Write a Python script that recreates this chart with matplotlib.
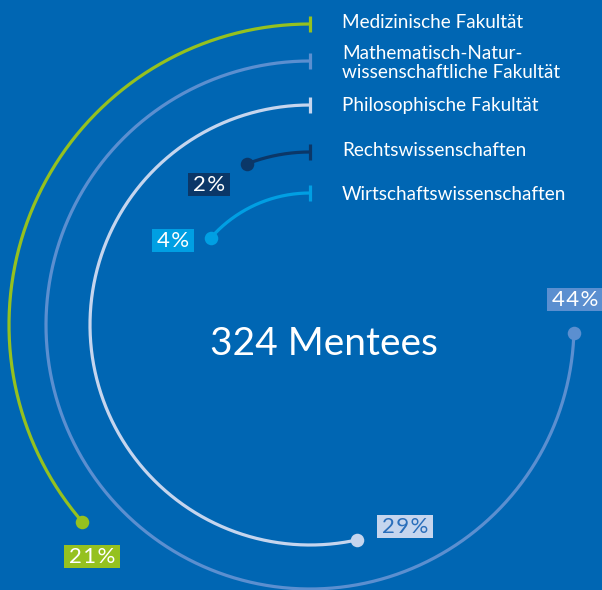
import numpy as np
import matplotlib.pyplot as plt
from matplotlib.patches import Rectangle

# Daten
fakultaeten = ["Medizinische Fakultät", "Mathematisch-Natur-\nwissenschaftliche Fakultät",
               "Philosophische Fakultät", "Rechtswissenschaften", "Wirtschaftswissenschaften"]
anteile = [21, 44, 29, 2, 4]
# Bogenlänge in Grad (aus der Vorlage abgelesen, nicht proportional)
bogen_grad = [130.8, 268.3, 192.3, 21.4, 48.5]
radien = [301, 264, 220, 173, 132]
farben = ["#95c11f", "#5b8fd0", "#c5d5ee", "#0b3768", "#009fe3"]
text_farben = ["white", "white", "#2a6ebb", "white", "white"]
gesamt = 324

# Positionen der Prozent-Labels (Pixel)
label_pos = [(92, 556), (575, 299), (405, 526), (209, 184), (173, 240)]
legende_y = [22, 63, 105, 151, 194]

bg = "#0066b3"
cx, cy = 310, 325

fig = plt.figure(figsize=(6.02, 5.90), dpi=100, facecolor=bg)
ax = fig.add_axes([0, 0, 1, 1])
ax.set_xlim(0, 602)
ax.set_ylim(590, 0)
ax.set_facecolor(bg)
ax.axis('off')

labels = []
for i in range(len(anteile)):
    r = radien[i]
    theta = np.radians(np.linspace(90, 90 + bogen_grad[i], 300))
    xs = cx + r * np.cos(theta)
    ys = cy - r * np.sin(theta)
    ax.plot(xs, ys, color=farben[i], linewidth=2.3, solid_capstyle='butt')
    # Endpunkt
    ax.scatter(xs[-1], ys[-1], s=95, color=farben[i], zorder=3, linewidths=0)
    # Markierung am Anfang
    ax.plot([cx, cx], [cy - r - 8, cy - r + 8], color=farben[i], linewidth=2.3,
            solid_capstyle='butt')
    # Legende
    ax.text(342, legende_y[i], fakultaeten[i], color='white', fontsize=13.6,
            family='Lato', va='center', ha='left', linespacing=1.15)
    # Prozent-Label
    lx, ly = label_pos[i]
    t = ax.text(lx, ly + 1, "\u200a".join(f"{anteile[i]}%"), color=text_farben[i],
                fontsize=16, family=['Lato', 'DejaVu Sans'], ha='center', va='center', zorder=5)
    labels.append((t, i))

ax.text(324, 344, f"{gesamt} Mentees", color='white', fontsize=28,
        family='Lato', ha='center', va='center')

# Kästen hinter den Prozent-Labels
fig.canvas.draw()
inv = ax.transData.inverted()
for t, i in labels:
    bb = t.get_window_extent()
    (x0, y0), (x1, y1) = inv.transform([[bb.x0, bb.y0], [bb.x1, bb.y1]])
    lx, ly = label_pos[i]
    w = abs(x1 - x0) + 10
    h = 23
    ax.add_patch(Rectangle((lx - w / 2, ly - h / 2), w, h, color=farben[i], zorder=4, lw=0))

fig.savefig("out.png", dpi=100, facecolor=bg)
